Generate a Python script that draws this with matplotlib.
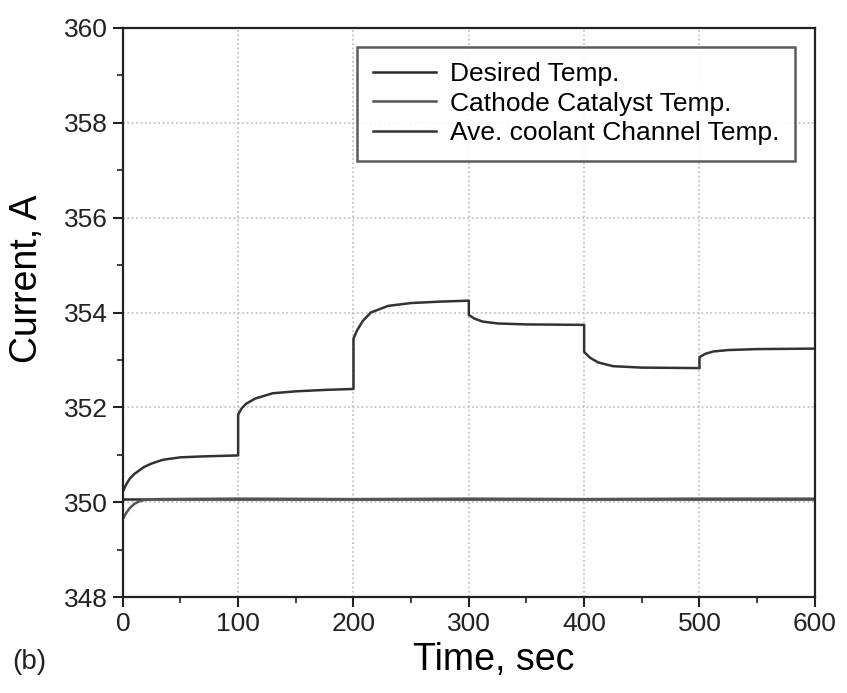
import matplotlib
matplotlib.use("Agg")
import matplotlib.pyplot as plt
from matplotlib.ticker import MultipleLocator

plt.rcParams['font.family'] = ['Liberation Sans', 'DejaVu Sans']

# Desired temperature (flat)
desired_t = [0, 600]
desired_v = [350.08, 350.08]

# Cathode catalyst (lower curve converging to desired)
cathode_t = [0, 3, 6, 10, 15, 20, 30, 100, 200, 300, 400, 500, 600]
cathode_v = [349.65, 349.78, 349.88, 349.97, 350.03, 350.06, 350.07, 350.08, 350.07, 350.08, 350.07, 350.08, 350.08]

# Average coolant channel (upper step curve)
coolant_t = [0, 3, 6, 10, 18, 25, 35, 50, 70, 100,
             100, 103, 107, 115, 130, 150, 175, 200,
             200, 203, 208, 215, 230, 250, 275, 300,
             300, 305, 312, 325, 350, 400,
             400, 405, 412, 425, 450, 500,
             500, 505, 512, 525, 550, 600]
coolant_v = [350.23, 350.38, 350.5, 350.6, 350.74, 350.82, 350.9, 350.95, 350.97, 350.99,
             351.85, 351.98, 352.08, 352.19, 352.3, 352.34, 352.37, 352.39,
             353.45, 353.62, 353.82, 354.0, 354.14, 354.2, 354.23, 354.25,
             353.95, 353.87, 353.81, 353.77, 353.75, 353.74,
             353.17, 353.05, 352.95, 352.87, 352.84, 352.83,
             353.06, 353.13, 353.18, 353.21, 353.23, 353.24]

labels = ["Desired Temp.", "Cathode Catalyst Temp.", "Ave. coolant Channel Temp."]

fig = plt.figure(figsize=(8.47, 6.93), dpi=100)
ax = fig.add_axes([0.145, 0.138, 0.817, 0.822])

ax.plot(desired_t, desired_v, color='#2a2a2a', lw=1.8, label=labels[0])
ax.plot(cathode_t, cathode_v, color='#555555', lw=1.8, label=labels[1])
ax.plot(coolant_t, coolant_v, color='#333333', lw=1.8, label=labels[2])

ax.set_xlim(0, 600)
ax.set_ylim(348, 360)
ax.xaxis.set_major_locator(MultipleLocator(100))
ax.xaxis.set_minor_locator(MultipleLocator(50))
ax.yaxis.set_major_locator(MultipleLocator(2))
ax.yaxis.set_minor_locator(MultipleLocator(1))
ax.tick_params(which='major', direction='out', length=7, width=1.5, labelsize=19, colors='#222222')
ax.tick_params(which='minor', direction='out', length=4, width=1.2, colors='#222222')
for s in ax.spines.values():
    s.set_linewidth(1.6)
    s.set_color('#222222')
ax.grid(True, which='major', linestyle=':', color='#bbbbbb', lw=1.2)

ax.set_xlabel("Time, sec", fontsize=27)
ax.set_ylabel("Current, A", fontsize=27)
ax.xaxis.set_label_coords(0.536, -0.078)
ax.yaxis.set_label_coords(-0.113, 0.56)

leg = ax.legend(loc='upper right', bbox_to_anchor=(0.971, 0.967), borderaxespad=0,
                fontsize=19, frameon=True, fancybox=False, edgecolor='#333333',
                handlelength=2.4, handletextpad=0.5, borderpad=0.6, labelspacing=0.2)
leg.get_frame().set_linewidth(1.8)

fig.text(0.014, 0.035, "(b)", fontsize=20, color='#222222')

fig.savefig("out.png", dpi=100)
